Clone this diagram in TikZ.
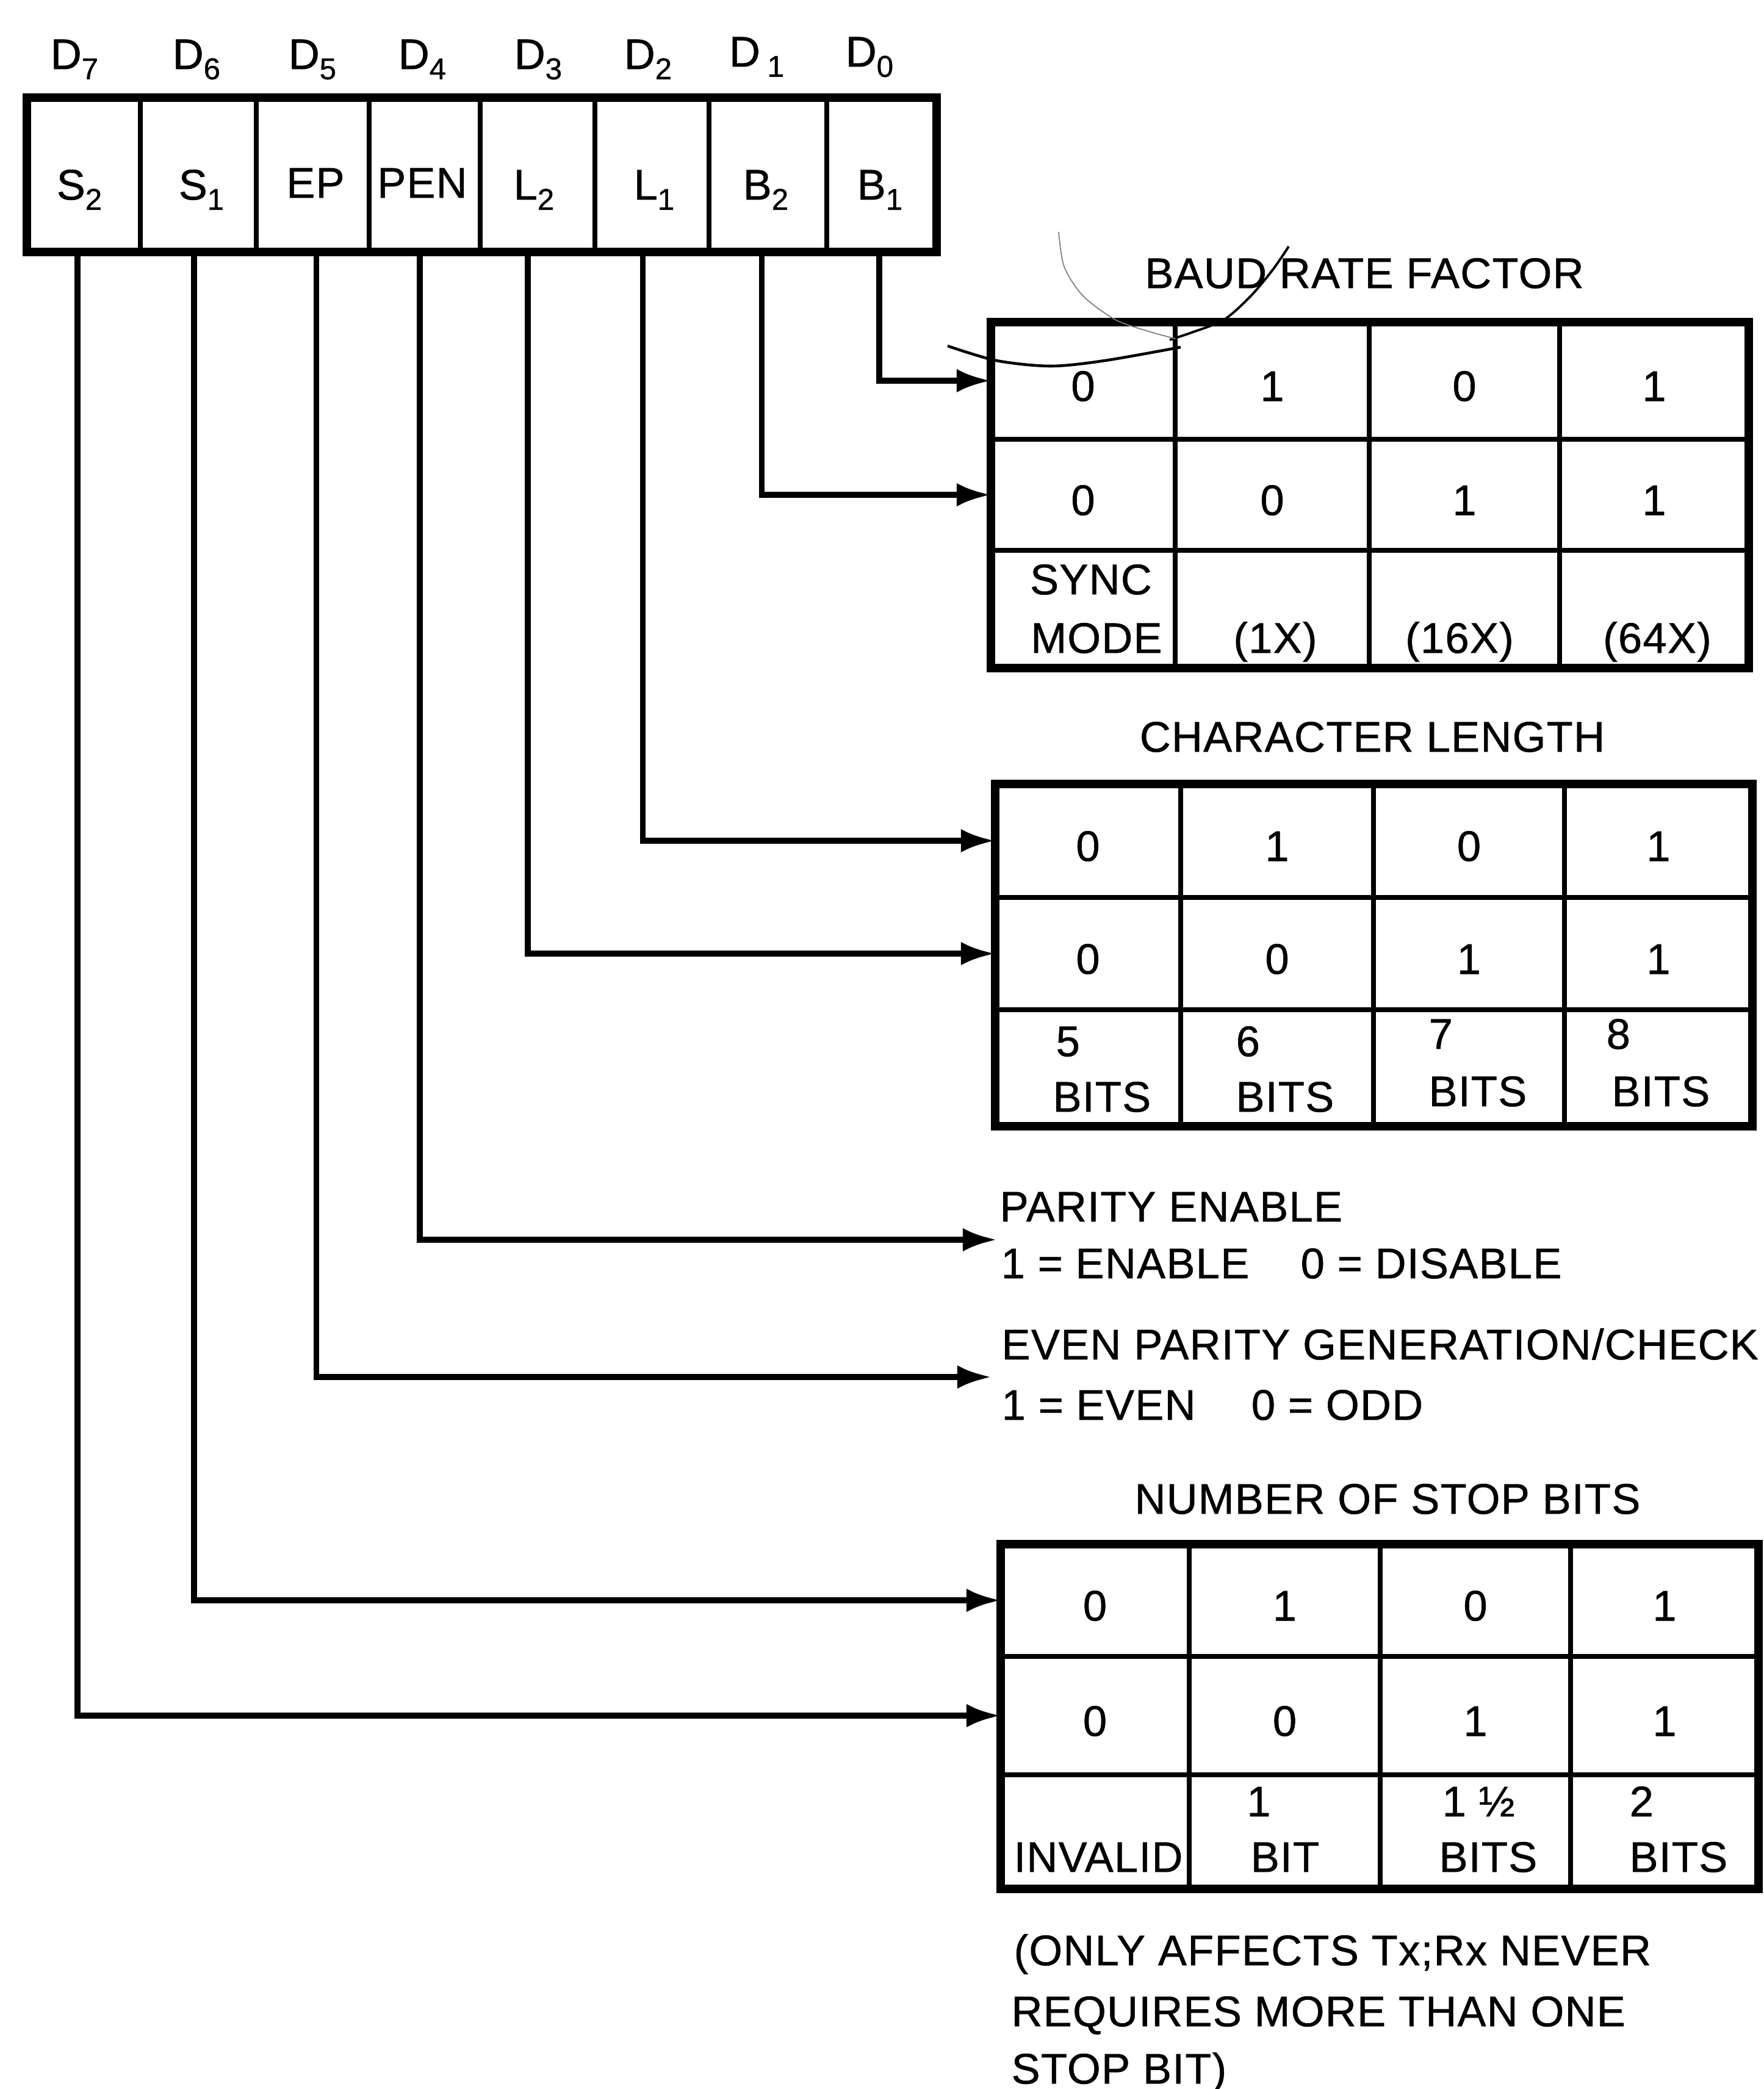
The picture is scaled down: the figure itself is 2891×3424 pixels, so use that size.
\documentclass[tikz,border=0pt]{standalone}
\usepackage{fontspec}
\setmainfont{Liberation Sans}[FakeBold=0.8,LetterSpace=2]
\usetikzlibrary{arrows.meta,calc,fit}
\newcommand\sbx[1]{\raisebox{-0.45ex}{\fontsize{14pt}{14pt}\selectfont #1}}
\begin{document}
\begin{tikzpicture}[x=0.01cm,y=-0.01cm,
  font=\fontsize{20pt}{24pt}\selectfont,
  cell/.style={draw, line width=2.4pt, inner sep=0pt, outer sep=0pt},
  frame/.style={line width=4pt},
  lead/.style={line width=2.8pt, -{Latex[length=16pt,width=11pt]}},
  txt/.style={inner sep=0pt, text height=14.3pt, text depth=0pt},
  ltxt/.style={txt, anchor=west},
  dig/.style={label={[txt, yshift=-2.3pt]center:#1}}]
\useasboundingbox (0,0) rectangle (2891,3424);

% ---------- register ----------
\node[cell, fit={(44,160)(230,413)}] (r7) {};
\node[cell, fit={(230,160)(420,413)}] (r6) {};
\node[cell, fit={(420,160)(605,413)}] (r5) {};
\node[cell, fit={(605,160)(787,413)}] (r4) {};
\node[cell, fit={(787,160)(975,413)}] (r3) {};
\node[cell, fit={(975,160)(1162,413)}] (r2) {};
\node[cell, fit={(1162,160)(1355,413)}] (r1) {};
\node[cell, fit={(1355,160)(1535,413)}] (r0) {};
\draw[frame] (r7.north west) rectangle (r0.south east);

\node[txt] (d7) at (122,88) {D\sbx{7}};
\node[txt] (d6) at (322,88) {D\sbx{6}};
\node[txt] (d5) at (512,88) {D\sbx{5}};
\node[txt] (d4) at (692,88) {D\sbx{4}};
\node[txt] (d3) at (882,88) {D\sbx{3}};
\node[txt] (d2) at (1062,88) {D\sbx{2}};
\node[txt] (d1) at (1240,84) {D\,\sbx{1}};
\node[txt] (d0) at (1425,84) {D\sbx{0}};

\node[txt] (n7) at (130,302) {S\sbx{2}};
\node[txt] (n6) at (330,302) {S\sbx{1}};
\node[txt] (n5) at (517,299) {EP};
\node[txt] (n4) at (692,299) {PEN};
\node[txt] (n3) at (875,302) {L\sbx{2}};
\node[txt] (n2) at (1072,302) {L\sbx{1}};
\node[txt] (n1) at (1255,302) {B\sbx{2}};
\node[txt] (n0) at (1442,302) {B\sbx{1}};

% ---------- baud rate table ----------
\node[txt] (bt) at (2236,447) {BAUD RATE FACTOR};
\node[cell, fit={(1624,528)(1926,720)}, dig=0] (b11) {};
\node[cell, fit={(1926,528)(2244,720)}, dig=1] (b12) {};
\node[cell, fit={(2244,528)(2556,720)}, dig=0] (b13) {};
\node[cell, fit={(2556,528)(2866,720)}, dig=1] (b14) {};
\node[cell, fit={(1624,720)(1926,902)}, dig=0] (b21) {};
\node[cell, fit={(1926,720)(2244,902)}, dig=0] (b22) {};
\node[cell, fit={(2244,720)(2556,902)}, dig=1] (b23) {};
\node[cell, fit={(2556,720)(2866,902)}, dig=1] (b24) {};
\node[cell, fit={(1624,902)(1926,1095)}] (b31) {};
\node[cell, fit={(1926,902)(2244,1095)}] (b32) {};
\node[cell, fit={(2244,902)(2556,1095)}] (b33) {};
\node[cell, fit={(2556,902)(2866,1095)}] (b34) {};
\draw[frame] (b11.north west) rectangle (b34.south east);
\node[txt] (bs1) at (1788,949) {SYNC};
\node[txt] (bs2) at (1797,1045) {MODE};
\node[txt] (bx1) at (2090,1045) {(1X)};
\node[txt] (bx2) at (2392,1045) {(16X)};
\node[txt] (bx3) at (2716,1045) {(64X)};

% pen marks
\draw[line width=1.3pt] plot[smooth] coordinates {(1553,567)(1633,591)(1722,600)(1811,591)(1935,569)};
\draw[line width=1.1pt] plot[smooth] coordinates {(2112,404)(2086,442)(2050,485)(2006,524)(1953,545)(1917,557)};
\draw[line width=0.5pt, gray] plot[smooth] coordinates {(1735,380)(1744,437)(1775,485)(1828,524)(1882,543)(1926,555)};

% ---------- character length table ----------
\node[txt] (ct) at (2249,1207) {CHARACTER LENGTH};
\node[cell, fit={(1631,1285)(1935,1471)}, dig=0] (c11) {};
\node[cell, fit={(1935,1285)(2251,1471)}, dig=1] (c12) {};
\node[cell, fit={(2251,1285)(2564,1471)}, dig=0] (c13) {};
\node[cell, fit={(2564,1285)(2872,1471)}, dig=1] (c14) {};
\node[cell, fit={(1631,1471)(1935,1655)}, dig=0] (c21) {};
\node[cell, fit={(1935,1471)(2251,1655)}, dig=0] (c22) {};
\node[cell, fit={(2251,1471)(2564,1655)}, dig=1] (c23) {};
\node[cell, fit={(2564,1471)(2872,1655)}, dig=1] (c24) {};
\node[cell, fit={(1631,1655)(1935,1846)}] (c31) {};
\node[cell, fit={(1935,1655)(2251,1846)}] (c32) {};
\node[cell, fit={(2251,1655)(2564,1846)}] (c33) {};
\node[cell, fit={(2564,1655)(2872,1846)}] (c34) {};
\draw[frame] (c11.north west) rectangle (c34.south east);
\node[ltxt] (c5a) at (1730,1706) {5};
\node[ltxt] (c5b) at (1725,1797) {BITS};
\node[ltxt] (c6a) at (2025,1706) {6};
\node[ltxt] (c6b) at (2025,1797) {BITS};
\node[ltxt] (c7a) at (2341,1694) {7};
\node[ltxt] (c7b) at (2341,1788) {BITS};
\node[ltxt] (c8a) at (2632,1694) {8};
\node[ltxt] (c8b) at (2641,1788) {BITS};

% ---------- parity texts ----------
\node[ltxt] (pt1) at (1638,1977) {PARITY ENABLE};
\node[ltxt] (pt2) at (1640,2070) {1 = ENABLE\hspace{1.2em}0 = DISABLE};
\node[ltxt] (et1) at (1641,2203) {EVEN PARITY GENERATION/CHECK};
\node[ltxt] (et2) at (1641,2302) {1 = EVEN\hspace{1.3em}0 = ODD};
\coordinate (pe) at (1634,2032);
\coordinate (ep) at (1625,2257);

% ---------- stop bits table ----------
\node[txt] (sbt) at (2274,2456) {NUMBER OF STOP BITS};
\node[cell, fit={(1640,2531)(1949,2715)}, dig=0] (s11) {};
\node[cell, fit={(1949,2531)(2262,2715)}, dig=1] (s12) {};
\node[cell, fit={(2262,2531)(2574,2715)}, dig=0] (s13) {};
\node[cell, fit={(2574,2531)(2882,2715)}, dig=1] (s14) {};
\node[cell, fit={(1640,2715)(1949,2909)}, dig=0] (s21) {};
\node[cell, fit={(1949,2715)(2262,2909)}, dig=0] (s22) {};
\node[cell, fit={(2262,2715)(2574,2909)}, dig=1] (s23) {};
\node[cell, fit={(2574,2715)(2882,2909)}, dig=1] (s24) {};
\node[cell, fit={(1640,2909)(1949,3096)}] (s31) {};
\node[cell, fit={(1949,2909)(2262,3096)}] (s32) {};
\node[cell, fit={(2262,2909)(2574,3096)}] (s33) {};
\node[cell, fit={(2574,2909)(2882,3096)}] (s34) {};
\draw[frame] (s11.north west) rectangle (s34.south east);
\node[txt] (sinv) at (1800,3043) {INVALID};
\node[txt] (s1a) at (2063,2952) {1};
\node[txt] (s1b) at (2106,3043) {BIT};
\node[ltxt] (s2a) at (2363,2952) {1 ½};
\node[ltxt] (s2b) at (2358,3043) {BITS};
\node[ltxt] (s3a) at (2670,2952) {2};
\node[ltxt] (s3b) at (2670,3043) {BITS};

\node[ltxt] (nt1) at (1661,3196) {(ONLY AFFECTS Tx;Rx NEVER};
\node[ltxt] (nt2) at (1657,3296) {REQUIRES MORE THAN ONE};
\node[ltxt] (nt3) at (1657,3390) {STOP BIT)};

% ---------- leads ----------
\draw[lead] ($(r0.south)+(-4,0)$) |- (b11.west);
\draw[lead] ($(r1.south)+(-10,0)$) |- (b21.west);
\draw[lead] ($(r2.south)+(-15,0)$) |- (c11.west);
\draw[lead] ($(r3.south)+(-16,0)$) |- (c21.west);
\draw[lead] ($(r4.south)+(-8,0)$) |- (pe);
\draw[lead] ($(r5.south)+(6,0)$) |- (ep);
\draw[lead] ($(r6.south)+(-7,0)$) |- (s11.west);
\draw[lead] ($(r7.south)+(-10,0)$) |- (s21.west);
\end{tikzpicture}
\end{document}
